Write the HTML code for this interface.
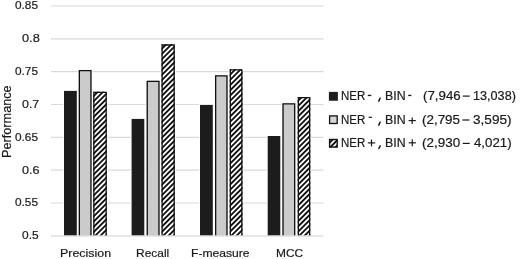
<!DOCTYPE html>
<html><head><meta charset="utf-8">
<style>
html,body{margin:0;padding:0;background:#fff;}
body{width:520px;height:259px;overflow:hidden;position:relative;font-family:"Liberation Sans",sans-serif;color:#1a1a1a;filter:grayscale(1);}
svg{position:absolute;left:0;top:0;}
.t{position:absolute;white-space:nowrap;line-height:1;transform-origin:0 0;-webkit-text-stroke:0.2px #1a1a1a;}
</style></head><body>
<svg width="520" height="259" viewBox="0 0 520 259">
<defs><pattern id="h" patternUnits="userSpaceOnUse" width="3.7" height="3.7" patternTransform="rotate(45)"><rect x="0" y="0" width="1.85" height="3.7" fill="#111"/></pattern></defs>
<g stroke="#d9d9d9" stroke-width="1.2">
<line x1="51" x2="323.5" y1="6.00" y2="6.00"/>
<line x1="51" x2="323.5" y1="38.83" y2="38.83"/>
<line x1="51" x2="323.5" y1="71.66" y2="71.66"/>
<line x1="51" x2="323.5" y1="104.49" y2="104.49"/>
<line x1="51" x2="323.5" y1="137.32" y2="137.32"/>
<line x1="51" x2="323.5" y1="170.15" y2="170.15"/>
<line x1="51" x2="323.5" y1="202.98" y2="202.98"/>
</g>
<rect x="63.10" y="90.00" width="14.60" height="145.50" fill="#fff"/>
<rect x="130.70" y="118.00" width="14.50" height="117.50" fill="#fff"/>
<rect x="199.10" y="104.00" width="14.60" height="131.50" fill="#fff"/>
<rect x="266.80" y="135.10" width="14.40" height="100.40" fill="#fff"/>
<rect x="77.80" y="69.00" width="14.70" height="166.50" fill="#fff"/>
<rect x="145.70" y="79.80" width="14.80" height="155.70" fill="#fff"/>
<rect x="214.10" y="74.35" width="14.40" height="161.15" fill="#fff"/>
<rect x="281.50" y="102.40" width="14.70" height="133.10" fill="#fff"/>
<rect x="92.30" y="90.75" width="15.40" height="144.75" fill="#fff"/>
<rect x="160.60" y="43.45" width="15.10" height="192.05" fill="#fff"/>
<rect x="228.80" y="68.30" width="14.60" height="167.20" fill="#fff"/>
<rect x="296.80" y="96.10" width="14.40" height="139.40" fill="#fff"/>
<rect x="64.0" y="90.9" width="12.80" height="144.60" fill="#1e1c1c"/>
<rect x="131.6" y="118.9" width="12.70" height="116.60" fill="#1e1c1c"/>
<rect x="200.0" y="104.9" width="12.80" height="130.60" fill="#1e1c1c"/>
<rect x="267.7" y="136.0" width="12.60" height="99.50" fill="#1e1c1c"/>
<rect x="78.70" y="69.90" width="12.90" height="165.60" fill="#cbcbcb"/><path d="M79.35 235.50V70.55H90.95V235.50" fill="none" stroke="#111" stroke-width="1.3"/>
<rect x="146.60" y="80.70" width="13.00" height="154.80" fill="#cbcbcb"/><path d="M147.25 235.50V81.35H158.95V235.50" fill="none" stroke="#111" stroke-width="1.3"/>
<rect x="215.00" y="75.25" width="12.60" height="160.25" fill="#cbcbcb"/><path d="M215.65 235.50V75.90H226.95V235.50" fill="none" stroke="#111" stroke-width="1.3"/>
<rect x="282.40" y="103.30" width="12.90" height="132.20" fill="#cbcbcb"/><path d="M283.05 235.50V103.95H294.65V235.50" fill="none" stroke="#111" stroke-width="1.3"/>
<rect x="93.20" y="91.65" width="13.60" height="143.85" fill="#fff"/><rect x="93.20" y="91.65" width="13.60" height="143.85" fill="url(#h)"/><path d="M93.85 235.50V92.30H106.15V235.50" fill="none" stroke="#111" stroke-width="1.3"/>
<rect x="161.50" y="44.35" width="13.30" height="191.15" fill="#fff"/><rect x="161.50" y="44.35" width="13.30" height="191.15" fill="url(#h)"/><path d="M162.15 235.50V45.00H174.15V235.50" fill="none" stroke="#111" stroke-width="1.3"/>
<rect x="229.70" y="69.20" width="12.80" height="166.30" fill="#fff"/><rect x="229.70" y="69.20" width="12.80" height="166.30" fill="url(#h)"/><path d="M230.35 235.50V69.85H241.85V235.50" fill="none" stroke="#111" stroke-width="1.3"/>
<rect x="297.70" y="97.00" width="12.60" height="138.50" fill="#fff"/><rect x="297.70" y="97.00" width="12.60" height="138.50" fill="url(#h)"/><path d="M298.35 235.50V97.65H309.65V235.50" fill="none" stroke="#111" stroke-width="1.3"/>
<line x1="51" x2="323.3" y1="236.0" y2="236.0" stroke="#d0d0d0" stroke-width="1.2"/>
<rect x="328.9" y="91.9" width="9" height="8.85" fill="#1e1c1c"/>
<rect x="329.59999999999997" y="115.9" width="7.6" height="7.6" fill="#d6d6d6" stroke="#111" stroke-width="1.3"/>
<rect x="329.59999999999997" y="139.5" width="7.6" height="7.6" fill="#fff"/><rect x="329.59999999999997" y="139.5" width="7.6" height="7.6" fill="url(#h)"/><rect x="329.59999999999997" y="139.5" width="7.6" height="7.6" fill="none" stroke="#111" stroke-width="1.4"/>
<rect x="367.8" y="94.8" width="3.5" height="1.3" fill="#1a1a1a"/>
<rect x="408.2" y="94.8" width="3.2" height="1.3" fill="#1a1a1a"/>
<rect x="368.7" y="116.7" width="3.2" height="1.2" fill="#1a1a1a"/>
<rect x="408.6" y="120.0" width="7.2" height="1.2" fill="#1a1a1a"/><rect x="411.6" y="117.5" width="1.2" height="6.5" fill="#1a1a1a"/>
<rect x="367.8" y="142.3" width="7.4" height="1.2" fill="#1a1a1a"/><rect x="370.9" y="139.5" width="1.2" height="6.9" fill="#1a1a1a"/>
<rect x="408.7" y="142.2" width="7.2" height="1.2" fill="#1a1a1a"/><rect x="411.7" y="139.3" width="1.2" height="7.0" fill="#1a1a1a"/>
<rect x="462.7" y="95.5" width="7.0" height="1.2" fill="#1a1a1a"/>
<rect x="462.3" y="119.4" width="7.1" height="1.2" fill="#1a1a1a"/>
<rect x="462.7" y="142.8" width="7.0" height="1.2" fill="#1a1a1a"/>
<path d="M380.10 98.10 L378.80 101.10" stroke="#1a1a1a" stroke-width="1.5" stroke-linecap="round"/>
<path d="M380.10 122.10 L378.80 125.10" stroke="#1a1a1a" stroke-width="1.5" stroke-linecap="round"/>
<path d="M380.20 145.90 L378.90 148.40" stroke="#1a1a1a" stroke-width="1.5" stroke-linecap="round"/>
</svg>
<div class="t" style="left:14.55px;top:-1.00px;font-size:11.75px;transform:scaleX(1.0064)">0.85</div>
<div class="t" style="left:21.58px;top:32.00px;font-size:11.75px;transform:scaleX(1.0867)">0.8</div>
<div class="t" style="left:14.65px;top:65.00px;font-size:11.75px;transform:scaleX(1.0064)">0.75</div>
<div class="t" style="left:21.72px;top:98.00px;font-size:11.75px;transform:scaleX(1.0583)">0.7</div>
<div class="t" style="left:14.65px;top:131.00px;font-size:11.75px;transform:scaleX(1.0064)">0.65</div>
<div class="t" style="left:21.61px;top:164.00px;font-size:11.75px;transform:scaleX(1.0783)">0.6</div>
<div class="t" style="left:14.65px;top:196.00px;font-size:11.75px;transform:scaleX(1.0064)">0.55</div>
<div class="t" style="left:21.55px;top:229.00px;font-size:11.75px;transform:scaleX(1.0153)">0.5</div>
<div class="t" style="left:59.64px;top:246.80px;font-size:11.75px;transform:scaleX(1.0589)">Precision</div>
<div class="t" style="left:135.70px;top:246.60px;font-size:11.75px;transform:scaleX(1.0167)">Recall</div>
<div class="t" style="left:190.56px;top:246.70px;font-size:11.75px;transform:scaleX(1.0318)">F-measure</div>
<div class="t" style="left:275.61px;top:246.70px;font-size:11.75px;transform:scaleX(1.0126)">MCC</div>
<div class="t" style="left:340.53px;top:89.60px;font-size:12px;transform:scaleX(0.9557)">NER</div>
<div class="t" style="left:384.69px;top:89.60px;font-size:12px;transform:scaleX(1.0294)">BIN</div>
<div class="t" style="left:340.53px;top:113.60px;font-size:12px;transform:scaleX(0.9557)">NER</div>
<div class="t" style="left:384.69px;top:113.60px;font-size:12px;transform:scaleX(1.0294)">BIN</div>
<div class="t" style="left:340.53px;top:136.60px;font-size:12px;transform:scaleX(0.9557)">NER</div>
<div class="t" style="left:384.69px;top:136.60px;font-size:12px;transform:scaleX(1.0294)">BIN</div>
<div class="t" style="left:422.52px;top:90.35px;font-size:12px;transform:scaleX(1.1069)">(7,946</div>
<div class="t" style="left:472.58px;top:90.06px;font-size:12px;transform:scaleX(1.0536)">13,038)</div>
<div class="t" style="left:421.74px;top:113.95px;font-size:12px;transform:scaleX(1.1172)">(2,795</div>
<div class="t" style="left:472.69px;top:113.93px;font-size:12px;transform:scaleX(1.1315)">3,595)</div>
<div class="t" style="left:421.73px;top:137.45px;font-size:12px;transform:scaleX(1.1202)">(2,930</div>
<div class="t" style="left:473.52px;top:137.43px;font-size:12px;transform:scaleX(1.1039)">4,021)</div>
<div class="t" style="left:0.7px;top:157.55px;font-size:12.4px;transform:rotate(-90deg) scaleX(1.0245)">Performance</div>
</body></html>
